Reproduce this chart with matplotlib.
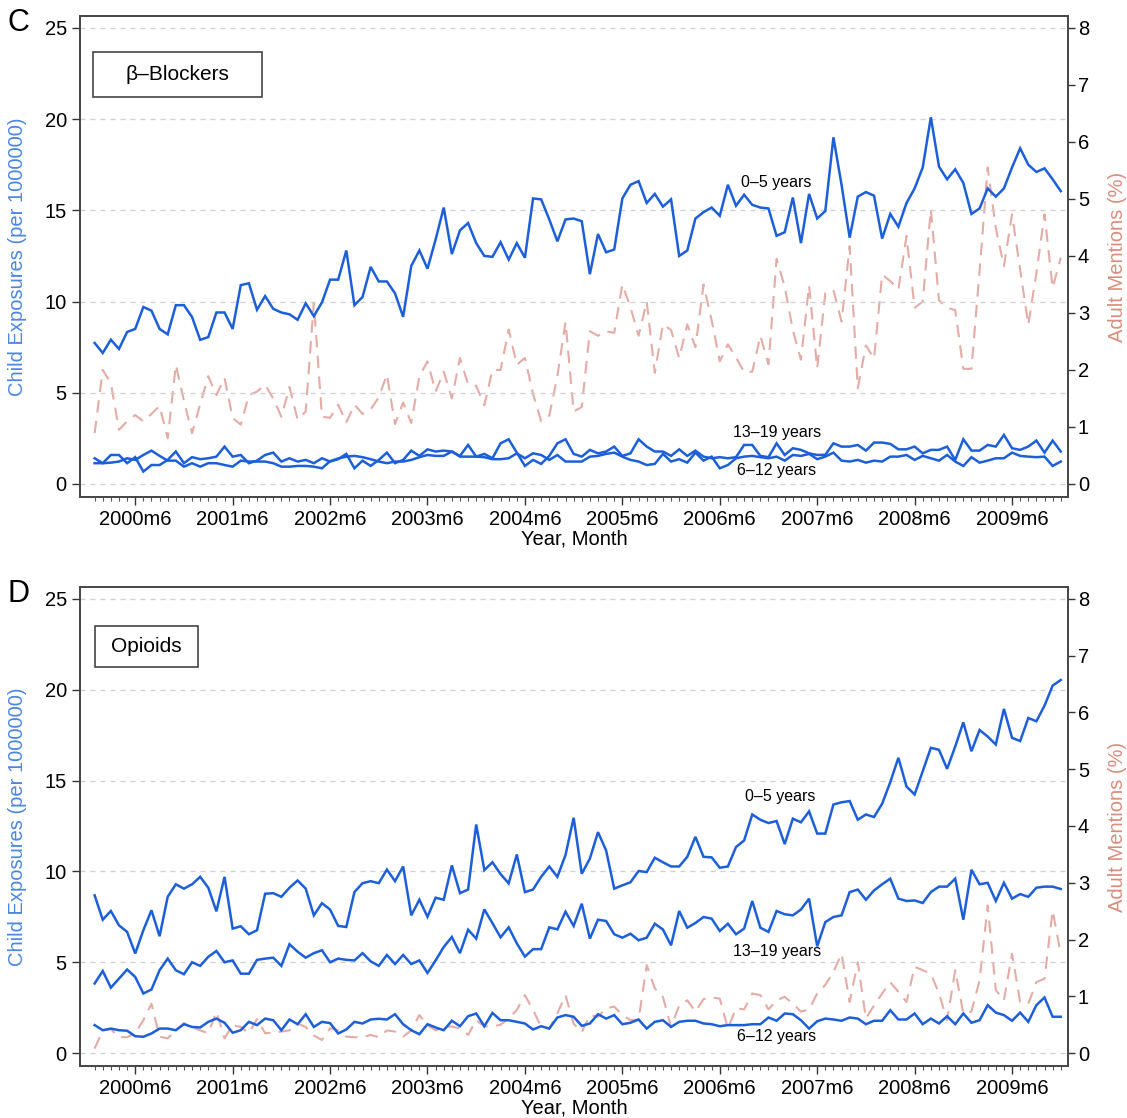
import numpy as np
import matplotlib
matplotlib.use('Agg')
import matplotlib.pyplot as plt
from matplotlib.patches import Rectangle

plt.rcParams['font.family'] = ['Liberation Sans', 'DejaVu Sans']

# month index 0 = 2000m1 ... 119 = 2009m12
months = np.arange(120)
tick_pos = [5 + 12 * k for k in range(10)]
tick_labels = ['%dm6' % (2000 + k) for k in range(10)]

# panel C: beta-blockers (child exposures per 1 000 000, adult mentions %)
c_age_0_5 = [7.73, 7.18, 7.91, 7.4, 8.33, 8.5, 9.7, 9.5, 8.5, 8.2, 9.8, 9.8, 9.15, 7.9, 8.05, 9.4, 9.4, 8.5, 10.9, 11.0,
             9.55, 10.3, 9.6, 9.4, 9.3, 9.0, 9.9, 9.2, 9.95, 11.2, 11.2,
             12.8, 9.8, 10.25, 11.9, 11.1, 11.1, 10.45, 9.16, 11.95, 12.8, 11.8, 13.4, 15.15, 12.6, 13.9, 14.3, 13.2, 12.5,
             12.45, 13.25, 12.3, 13.2, 12.4, 15.65, 15.6, 14.5, 13.3, 14.5, 14.55,
             14.4, 11.5, 13.7, 12.7, 12.85, 15.65, 16.4, 16.6, 15.4, 15.9, 15.2, 15.6, 12.5, 12.8, 14.55, 14.9, 15.15, 14.7,
             16.4, 15.25, 15.85, 15.3, 15.15, 15.1, 13.6, 13.8, 15.7, 13.2, 15.9, 14.55,
             14.96, 19.0, 16.4, 13.5, 15.75, 16.0, 15.8, 13.45, 14.8, 14.1, 15.4, 16.2, 17.35, 20.1, 17.4, 16.7, 17.25, 16.5,
             14.8, 15.1, 16.2, 15.75, 16.2, 17.35, 18.4, 17.5, 17.1, 17.3, 16.7, 16.05]
c_age_13_19 = [1.41, 1.14, 1.59, 1.59, 1.14, 1.47, 0.68, 1.04, 1.04, 1.32, 1.78, 1.14, 1.47, 1.36, 1.41, 1.5, 2.05, 1.5, 1.59,
               1.14, 1.28, 1.59, 1.72, 1.23, 1.41, 1.23, 1.32, 1.14, 1.41, 1.23, 1.36,
               1.65, 0.86, 1.28, 0.99, 1.32, 1.72, 1.14, 1.32, 1.83, 1.54, 1.9, 1.78, 1.83, 1.78, 1.54, 2.14, 1.5, 1.65, 1.41,
               2.23, 2.45, 1.72, 0.99, 1.32, 1.1, 1.54, 2.23, 2.45, 1.65,
               1.5, 1.87, 1.68, 1.78, 2.05, 1.54, 1.68, 2.45, 2.05, 1.78, 1.78, 1.54, 1.9, 1.54, 1.83, 1.5, 1.41, 1.47, 1.41,
               1.47, 2.14, 2.14, 1.54, 1.47, 2.23, 1.59, 1.96, 1.87, 1.68, 1.59,
               1.6, 2.23, 2.05, 2.05, 2.14, 1.83, 2.27, 2.27, 2.2, 1.9, 1.9, 2.05, 1.68, 1.87, 1.87, 2.05, 1.32, 2.45, 1.83,
               1.83, 2.14, 2.05, 2.69, 1.96, 1.87, 2.05, 2.38, 1.72, 2.38, 1.78]
c_age_6_12 = [1.14, 1.14, 1.17, 1.23, 1.41, 1.32, 1.59, 1.83, 1.54, 1.28, 1.28, 0.95, 1.14, 0.95, 1.14, 1.14, 1.04, 0.95, 1.28,
              1.23, 1.23, 1.23, 1.14, 0.95, 0.95, 0.99, 0.99, 0.95, 0.86, 1.25, 1.4,
              1.5, 1.54, 1.47, 1.36, 1.23, 1.14, 1.23, 1.23, 1.32, 1.47, 1.59, 1.54, 1.54, 1.78, 1.5, 1.5, 1.5, 1.47, 1.36,
              1.36, 1.41, 1.68, 1.41, 1.68, 1.59, 1.32, 1.59, 1.23, 1.23,
              1.23, 1.5, 1.54, 1.65, 1.72, 1.5, 1.32, 1.23, 1.04, 1.1, 1.65, 1.23, 1.36, 1.17, 1.72, 1.28, 1.5, 0.86, 1.04,
              1.41, 1.5, 1.54, 1.47, 1.41, 1.5, 1.28, 1.59, 1.54, 1.65, 1.36,
              1.5, 1.72, 1.28, 1.23, 1.32, 1.17, 1.28, 1.23, 1.5, 1.5, 1.59, 1.32, 1.54, 1.41, 1.28, 1.59, 1.23, 0.99, 1.47,
              1.17, 1.28, 1.41, 1.41, 1.72, 1.54, 1.5, 1.47, 1.5, 0.99, 1.23]
c_adult = [0.89, 2.0, 1.77, 0.95, 1.1, 1.21, 1.1, 1.23, 1.37, 0.80, 2.09, 1.46, 0.89, 1.4, 1.89, 1.56, 1.86, 1.16, 1.04, 1.56,
           1.62, 1.74, 1.5, 1.18, 1.7, 1.13, 1.27, 3.18, 1.18, 1.16, 1.39,
           1.08, 1.39, 1.23, 1.31, 1.52, 1.92, 1.05, 1.43, 1.07, 1.89, 2.15, 1.62, 1.97, 1.5, 2.21, 1.75, 1.72, 1.38, 2.0,
           2.0, 2.71, 2.09, 2.21, 1.58, 1.1, 1.2, 1.89, 2.84, 1.27, 1.35,
           2.68, 2.6, 2.68, 2.65, 3.5, 3.1, 2.6, 3.2, 1.95, 2.8, 2.7, 2.21, 2.8, 2.4, 3.5, 2.87, 2.15, 2.45, 2.22,
           1.96, 1.97, 2.6, 2.1, 3.95, 3.46, 2.7, 2.18, 3.48, 2.03,
           3.35, 3.4, 2.85, 4.17, 1.68, 2.43, 2.2, 3.67, 3.56, 3.41, 4.35, 3.09, 3.2, 4.82, 3.22, 3.09, 3.05, 2.02, 2.02,
           3.73, 5.55, 4.49, 3.82, 4.73, 3.76, 2.79, 3.7, 4.73, 3.44, 3.97]

# panel D: opioids
d_age_0_5 = [8.68, 7.34, 7.82, 7.03, 6.67, 5.48, 6.76, 7.86, 6.43, 8.6, 9.29, 9.05, 9.29, 9.7, 9.1, 7.8, 9.7, 6.85, 6.98, 6.54,
             6.76, 8.77, 8.8, 8.6, 9.1, 9.5, 9.05, 7.58, 8.25, 7.9, 7.0,
             6.94, 8.86, 9.35, 9.46, 9.35, 10.1, 9.46, 10.27, 7.58, 8.44, 7.5, 8.55, 8.44, 10.33, 8.8, 9.0, 12.58, 10.07, 10.5,
             9.85, 9.34, 10.93, 8.86, 9.0, 9.7, 10.27, 9.7, 10.9, 12.95,
             9.87, 10.7, 12.16, 11.15, 9.05, 9.23, 9.4, 10.02, 9.96, 10.75, 10.5, 10.27, 10.27, 10.8, 11.9, 10.8, 10.77, 10.2,
             10.27, 11.34, 11.7, 13.13, 12.84, 12.66, 12.77, 11.5, 12.9, 12.7, 13.3, 12.08,
             12.08, 13.68, 13.8, 13.87, 12.84, 13.13, 12.99, 13.72, 14.91, 16.25, 14.67, 14.23, 15.51, 16.8, 16.69, 15.64,
             16.87, 18.2, 16.61, 17.78, 17.42, 16.98, 18.94, 17.35, 17.17, 18.44, 18.26, 19.12, 20.22, 20.53]
d_age_13_19 = [3.83, 4.52, 3.6, 4.1, 4.6, 4.19, 3.28, 3.5, 4.56, 5.2, 4.56, 4.34, 5.0, 4.8, 5.3, 5.62, 5.0, 5.1, 4.37, 4.37,
               5.13, 5.2, 5.25, 4.8, 5.99, 5.58, 5.25, 5.5, 5.66, 5.0, 5.2,
               5.13, 5.1, 5.5, 5.05, 4.8, 5.4, 4.9, 5.4, 4.9, 5.1, 4.41, 5.1, 5.84, 6.39, 5.5, 6.79, 6.3, 7.91, 7.15,
               6.37, 6.92, 6.04, 5.31, 5.72, 5.72, 6.92, 6.81, 7.78, 7.0,
               8.22, 6.3, 7.34, 7.27, 6.54, 6.35, 6.57, 6.21, 6.35, 7.12, 6.8, 5.93, 7.82, 6.9, 7.16, 7.49, 7.4, 6.72, 7.12,
               6.54, 6.85, 8.37, 6.9, 6.67, 7.82, 7.64, 7.58, 7.9, 8.5, 5.88,
               7.21, 7.49, 7.58, 8.86, 9.0, 8.44, 8.95, 9.29, 9.6, 8.5, 8.37, 8.4, 8.26, 8.86, 9.16, 9.16, 9.6, 7.34, 10.09,
               9.29, 9.37, 8.37, 9.37, 8.5, 8.75, 8.6, 9.1, 9.16, 9.16, 9.03]
d_age_6_12 = [1.54, 1.26, 1.35, 1.26, 1.23, 0.93, 0.9, 1.08, 1.35, 1.35, 1.26, 1.59, 1.44, 1.41, 1.72, 1.9, 1.67, 1.12, 1.26,
              1.72, 1.54, 1.9, 1.81, 1.26, 1.85, 1.59, 2.14, 1.44, 1.72, 1.65, 1.08,
              1.3, 1.72, 1.63, 1.85, 1.89, 1.85, 2.14, 1.59, 1.26, 1.04, 1.59, 1.41, 1.26, 1.78, 1.48, 2.03, 2.18, 1.48, 2.21,
              1.81, 1.81, 1.72, 1.63, 1.3, 1.48, 1.35, 1.96, 2.09, 2.0,
              1.5, 1.63, 2.14, 1.9, 2.09, 1.59, 1.67, 1.85, 1.35, 1.72, 1.81, 1.44, 1.72, 1.78, 1.78, 1.63, 1.59, 1.48, 1.54,
              1.54, 1.54, 1.59, 1.59, 1.96, 1.78, 2.18, 2.14, 1.81, 1.35, 1.75,
              1.9, 1.85, 1.78, 1.96, 1.9, 1.59, 1.78, 1.78, 2.36, 1.85, 1.85, 2.18, 1.59, 1.9, 1.63, 2.03, 1.59, 2.18, 1.67,
              1.81, 2.64, 2.23, 2.09, 1.78, 2.23, 1.72, 2.64, 3.06, 2.0, 2.0]
d_adult = [0.08, 0.40, 0.42, 0.28, 0.28, 0.35, 0.58, 0.87, 0.29, 0.26, 0.4, 0.53, 0.46, 0.4, 0.35, 0.73, 0.26, 0.49, 0.46,
           0.35, 0.6, 0.35, 0.36, 0.38, 0.4, 0.52, 0.46, 0.31, 0.23, 0.44, 0.4,
           0.29, 0.28, 0.28, 0.32, 0.28, 0.4, 0.38, 0.29, 0.4, 0.67, 0.49, 0.4, 0.46, 0.47, 0.43, 0.32, 0.58, 0.47, 0.47,
           0.5, 0.61, 0.76, 1.02, 0.76, 0.46, 0.43, 0.7, 1.02, 0.52,
           0.37, 0.67, 0.64, 0.79, 0.82, 0.67, 0.58, 0.59, 1.55, 1.14, 0.99, 0.46, 0.84, 0.93, 0.73, 0.95, 0.98, 0.96, 0.43,
           0.79, 0.77, 1.05, 1.02, 0.77, 0.93, 0.99, 0.87, 0.73, 0.77, 1.05,
           1.2, 1.43, 1.75, 0.9, 1.6, 0.61, 0.84, 1.05, 1.25, 1.08, 0.9, 1.52, 1.46, 1.4, 1.05, 0.58, 1.46, 0.7, 0.73,
           1.28, 2.6, 1.11, 0.93, 1.75, 0.9, 0.87, 1.25, 1.31, 2.51, 1.75]

BLUE = '#1c5fd9'
RED = '#e3aca5'
LBLUE = '#4a86e0'
LRED = '#d98d7e'

fig = plt.figure(figsize=(11.27, 11.18), dpi=100)


def panel(rect, letter, drug, box, y05, y1319, y612, adult, labels):
    ax = fig.add_axes(rect)
    ax2 = ax.twinx()
    ax.set_zorder(ax2.get_zorder() + 1)
    ax.patch.set_visible(False)

    ylo, yhi = -0.71, 25.65
    ax.set_ylim(ylo, yhi)
    ax2.set_ylim(ylo / 3.125, yhi / 3.125)
    ax.set_xlim(-1.8, 119.9)

    for g in range(0, 30, 5):
        ax.axhline(g, color='#cfcfcf', lw=0.9, ls=(0, (4, 4)), zorder=0)

    ax2.plot(months, adult, color=RED, lw=1.5, ls=(0, (6, 4)))
    for ser in (y05, y1319, y612):
        ax.plot(months, ser, color=BLUE, lw=1.8, solid_joinstyle='miter')

    ax.set_yticks(range(0, 30, 5))
    ax2.set_yticks(range(0, 9))
    ax.set_xticks(tick_pos)
    ax.set_xticklabels(tick_labels)
    ax.set_xticks(months, minor=True)
    ax.tick_params(axis='both', which='major', labelsize=14.5, length=6, width=1, color='#333333')
    ax.tick_params(axis='x', which='minor', length=3, width=0.8, color='#555555')
    ax2.tick_params(axis='y', labelsize=14.5, length=5, width=1, pad=2, color='#333333')
    for sp in list(ax.spines.values()) + list(ax2.spines.values()):
        sp.set_color('#444444')
        sp.set_linewidth(1.2)

    ax.set_xlabel('Year, Month', fontsize=14.5, labelpad=0)
    ax.set_ylabel('Child Exposures (per 1000000)', fontsize=14.5, color=LBLUE)
    ax.yaxis.set_label_coords(-0.054, 0.5)
    ax2.set_ylabel('Adult Mentions (%)', fontsize=14.5, color=LRED, rotation=90)
    ax2.yaxis.set_label_coords(1.040, 0.5)

    bx, by, bw, bh, tx, ty = box
    ax.add_patch(Rectangle((bx, by), bw, bh, transform=ax.transAxes, fill=True,
                           facecolor='white', edgecolor='#444444', lw=1.2, zorder=5))
    ax.text(tx, ty, drug, transform=ax.transAxes, ha='center', va='center', fontsize=15, zorder=6)

    for txt, xi, yv in labels:
        ax.text(xi, yv, txt, ha='center', va='center', fontsize=11.5, zorder=6)

    fig.text(0.016, rect[1] + rect[3] - 0.006, letter, fontsize=22, ha='center', va='center')
    return ax


panel([0.071, 0.5555, 0.8767, 0.4302], 'C', '\u03b2\u2013Blockers',
      (0.0132, 0.832, 0.171, 0.0936, 0.0987, 0.878),
      c_age_0_5, c_age_13_19, c_age_6_12, c_adult,
      [('0\u20135 years', 84, 16.5), ('13\u201319 years', 84, 2.8), ('6\u201312 years', 84, 0.75)])

panel([0.071, 0.0465, 0.8767, 0.4285], 'D', 'Opioids',
      (0.0152, 0.833, 0.104, 0.0856, 0.0673, 0.876),
      d_age_0_5, d_age_13_19, d_age_6_12, d_adult,
      [('0\u20135 years', 84.5, 14.1), ('13\u201319 years', 84, 5.6), ('6\u201312 years', 84, 0.9)])

fig.savefig('out.png', dpi=100)
